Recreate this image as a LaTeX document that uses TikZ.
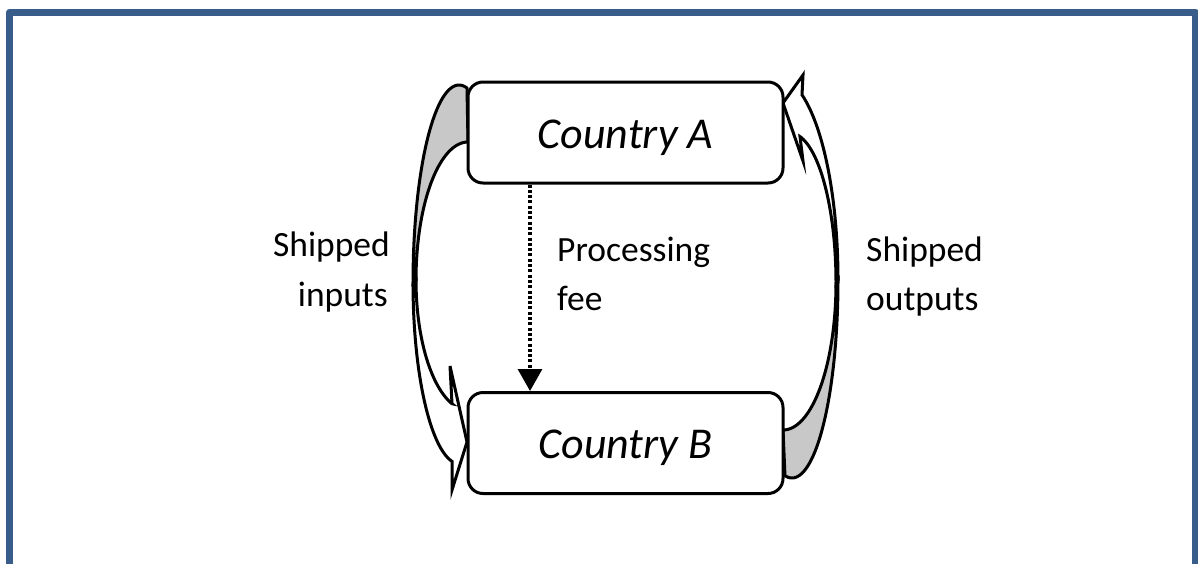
\documentclass[tikz,border=0pt]{standalone}
\usepackage{fontspec}
\setmainfont{Carlito}
\usetikzlibrary{arrows.meta}
\definecolor{framecol}{RGB}{56,93,138}
\definecolor{backgray}{RGB}{200,200,200}
\begin{document}
\begin{tikzpicture}[x=1pt,y=-1pt,
  country/.style={draw=black, line width=3pt, rounded corners=15pt, fill=white,
    minimum width=315pt, minimum height=101pt, inner sep=0pt},
  boxtext/.style={inner sep=0pt, font=\fontsize{44}{52}\selectfont\itshape},
  lbl/.style={inner sep=0pt, font=\fontsize{35.5}{42}\selectfont},
  backband/.style={fill=backgray, draw=black, line width=3pt},
  frontband/.style={fill=white, draw=black, line width=3pt},
  feeline/.style={line width=3.2pt, dash pattern=on 3pt off 2.3pt,
    -{Triangle[width=24pt,length=22pt]}}]
\useasboundingbox (0,0) rectangle (1198,563);
% frame
\draw[framecol, line width=7pt, line join=round] (9.5,620) -- (9.5,12) -- (1195,12) -- (1195,620);
% left curved arrow (shipped inputs)
\filldraw[backband]
  plot[domain=180:280, samples=50] ({459+46*cos(\x)},{283+198*sin(\x)})
  -- (468,142)
  -- plot[domain=270:180, samples=50] ({468+52*cos(\x)},{280+138*sin(\x)})
  -- cycle;
\filldraw[frontband]
  plot[domain=180:99.8, samples=50] ({460+47*cos(\x)},{283+181*sin(\x)})
  -- (452,490) -- (467,442) -- (450,366) -- (452,403.7)
  -- plot[domain=107.9:180, samples=50] ({468+52*cos(\x)},{280+130*sin(\x)})
  -- cycle;
% right curved arrow (shipped outputs)
\filldraw[backband]
  plot[domain=0:98.8, samples=50] ({792+46*cos(\x)},{280+198*sin(\x)})
  -- (783,430)
  -- plot[domain=90:0, samples=50] ({783+53*cos(\x)},{283+147*sin(\x)})
  -- cycle;
\filldraw[frontband]
  plot[domain=0:-65.8, samples=50] ({777+61*cos(\x)},{280+203*sin(\x)})
  -- (803,75) -- (783,103) -- (803,161) -- (800,136.6)
  -- plot[domain=-77.4:0, samples=50] ({790+46*cos(\x)},{283+150*sin(\x)})
  -- cycle;
% boxes
\node[country] (A) at (625.5,132.5) {};
\node[country] (B) at (625.5,443) {};
\node[boxtext] (At) at ([yshift=-5pt]A.center) {Country A};
\node[boxtext] (Bt) at ([yshift=-5pt]B.center) {Country B};
% processing fee
\coordinate (xd) at (530,0);
\draw[feeline] (A.south -| xd) -- (B.north -| xd);
% labels
\node[lbl, anchor=base east] (si) at (390,256) {Shipped};
\node[lbl, anchor=base east] (in) at (388,306) {inputs};
\node[lbl, anchor=base west] (pr) at (557,261) {Processing};
\node[lbl, anchor=base west] (fe) at (557,310) {fee};
\node[lbl, anchor=base west] (so) at (866,261) {Shipped};
\node[lbl, anchor=base west] (ou) at (866,310) {outputs};
\end{tikzpicture}
\end{document}
